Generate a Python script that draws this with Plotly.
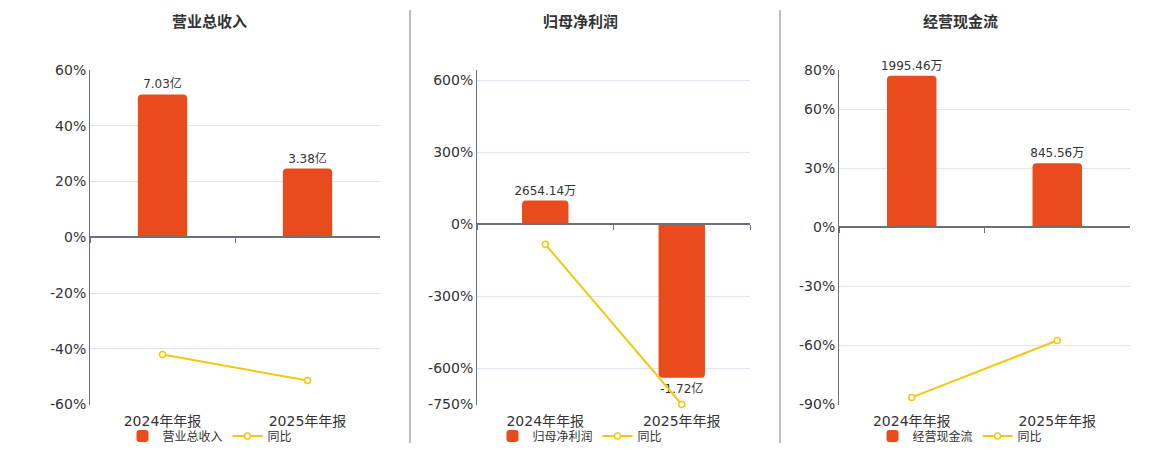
import plotly.graph_objects as go

# ---------------- data ----------------
categories = ["2024年年报", "2025年年报"]

titles = ["营业总收入", "归母净利润", "经营现金流"]

revenue_vals = [7.03, 3.38]            # 亿
revenue_labels = ["7.03亿", "3.38亿"]
revenue_yoy = [-42.1, -51.4]          # %

profit_vals = [0.265414, -1.72]        # 亿
profit_labels = ["2654.14万", "-1.72亿"]
profit_yoy = [-83.0, -750.0]          # %

cash_vals = [1995.46, 845.56]          # 万
cash_labels = ["1995.46万", "845.56万"]
cash_yoy = [-86.4, -57.5]             # %

pct_ticks = [
    [60, 40, 20, 0, -20, -40, -60],
    [642, 600, 300, 0, -300, -600, -750],
    [80, 60, 30, 0, -30, -60, -90],
]
pct_tick_text = [
    ["60%", "40%", "20%", "0%", "-20%", "-40%", "-60%"],
    ["", "600%", "300%", "0%", "-300%", "-600%", "-750%"],
    ["80%", "60%", "30%", "0%", "-30%", "-60%", "-90%"],
]
pct_ranges = [[-60, 60], [-750, 642], [-90, 80]]
bar_spans = [16.46, 3.746, 4400.0]

# ---------------- style ----------------
BAR_COLOR = "#E84B1C"
LINE_COLOR = "#F2C80F"
GRID = "#E0E6F1"
AXIS = "#6E7079"
TXT = "#333333"
FONT = "DejaVu Sans, Noto Sans CJK SC, sans-serif"

W, H = 1160, 450
OFF = 8  # page body margin compensation


def px(xp):
    return (xp - OFF) / W


def py(yp):
    return 1 - (yp - OFF) / H


x_domains = [[px(90), px(380)], [px(477), px(750)], [px(839), px(1130)]]
y_domain = [py(404.5), py(70)]
title_x = [px(210), px(580), px(960)]

panels = [
    (revenue_vals, revenue_labels, revenue_yoy),
    (profit_vals, profit_labels, profit_yoy),
    (cash_vals, cash_labels, cash_yoy),
]

fig = go.Figure()
layout = {}
legend_names = ["legend", "legend2", "legend3"]

for i, (vals, labels, yoy) in enumerate(panels):
    a = i + 1          # base axes: bars
    b = i + 4          # overlay axes: percent line + zero axis
    xa = "x" if a == 1 else f"x{a}"
    ya = "y" if a == 1 else f"y{a}"
    xb = f"x{b}"
    yb = f"y{b}"

    lo, hi = pct_ranges[i]
    frac = (0 - lo) / (hi - lo)
    span = bar_spans[i]
    bar_range = [-frac * span, (1 - frac) * span]
    zero_pos = y_domain[0] + (y_domain[1] - y_domain[0]) * frac

    fig.add_trace(go.Bar(
        x=categories, y=vals, text=labels, textposition="outside",
        textfont=dict(size=12, color=TXT, family=FONT),
        constraintext="none",
        marker=dict(color=BAR_COLOR, line=dict(width=0)),
        width=0.34, name=titles[i], xaxis=xa, yaxis=ya,
        cliponaxis=False, legend=legend_names[i], hoverinfo="skip",
    ))
    fig.add_trace(go.Scatter(
        x=categories, y=yoy, mode="lines+markers", name="同比",
        line=dict(color=LINE_COLOR, width=2),
        marker=dict(symbol="circle", size=6, color="white",
                    line=dict(color=LINE_COLOR, width=1.5)),
        xaxis=xb, yaxis=yb, cliponaxis=False,
        legend=legend_names[i], hoverinfo="skip",
    ))

    axkey = lambda p, n: (p + "axis") if n == 1 else f"{p}axis{n}"

    layout[axkey("x", a)] = dict(
        domain=x_domains[i], anchor=ya, type="category",
        categoryorder="array", categoryarray=categories,
        range=[-0.5, len(categories) - 0.5], automargin=False,
        showline=False, showgrid=False, zeroline=False, ticks="",
        ticklabelstandoff=6,
        tickfont=dict(size=14, color=TXT, family=FONT),
    )
    layout[axkey("y", a)] = dict(
        domain=y_domain, anchor=xa, range=bar_range, automargin=False,
        visible=False, showgrid=False, zeroline=False,
    )
    layout[axkey("x", b)] = dict(
        overlaying=xa, anchor="free", position=zero_pos, type="category",
        categoryorder="array", categoryarray=categories,
        range=[-0.5, len(categories) - 0.5], automargin=False,
        showline=True, linecolor=AXIS, linewidth=2,
        ticks="outside", tickson="boundaries", ticklen=5,
        tickcolor=AXIS, tickwidth=1,
        showticklabels=False, showgrid=False, zeroline=False,
    )
    layout[axkey("y", b)] = dict(
        overlaying=ya, anchor=xa, side="left", range=[lo, hi],
        automargin=False,
        tickmode="array", tickvals=pct_ticks[i], ticktext=pct_tick_text[i],
        showline=True, linecolor=AXIS, linewidth=1,
        showgrid=True, gridcolor=GRID, gridwidth=1, zeroline=False,
        ticks="", tickfont=dict(size=14, color=TXT, family=FONT),
    )
    layout[legend_names[i]] = dict(
        orientation="h", x=title_x[i], xanchor="center",
        y=py(436), yanchor="middle",
        font=dict(size=12, color=TXT, family=FONT),
        bgcolor="rgba(0,0,0,0)", itemwidth=30, tracegroupgap=0,
    )

annotations = [
    dict(text=f"<b>{t}</b>", x=title_x[i], y=py(22), xref="paper",
         yref="paper", xanchor="center", yanchor="middle", showarrow=False,
         font=dict(size=15, color=TXT, family=FONT))
    for i, t in enumerate(titles)
]

shapes = [
    dict(type="line", xref="paper", yref="paper",
         x0=px(xs), x1=px(xs), y0=py(10), y1=py(443),
         line=dict(color="#A8A8A8", width=1.5))
    for xs in (410, 780)
]

fig.update_layout(
    width=W, height=H, margin=dict(l=0, r=0, t=0, b=0, autoexpand=False),
    paper_bgcolor="white", plot_bgcolor="white",
    barcornerradius=4, showlegend=True,
    annotations=annotations, shapes=shapes,
    font=dict(family=FONT, color=TXT),
    **layout,
)

fig.write_html("out.html")
